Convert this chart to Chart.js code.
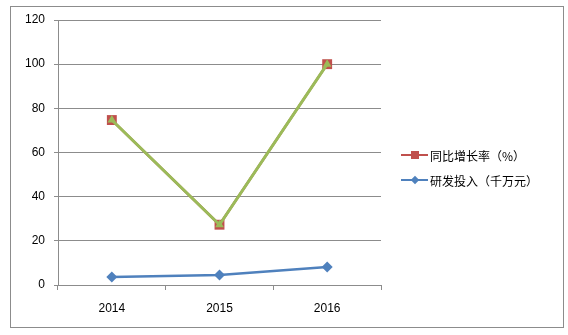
<!DOCTYPE html>
<html>
<head>
<meta charset="utf-8">
<script src="https://cdn.jsdelivr.net/npm/chart.js@4"></script>
<style>
  html, body { margin: 0; padding: 0; background: #fff; }
  #wrap { position: relative; width: 568px; height: 335px; }
  #frame { position: absolute; left: 10px; top: 6px; width: 554px; height: 322px; border: 1px solid #8c8c8c; box-sizing: border-box; }
  canvas { position: absolute; left: 0; top: 0; }
  .leg { position: absolute; left: 401px; font: 12px "Noto Sans CJK SC", sans-serif; color: #000; white-space: nowrap; display: flex; align-items: center; height: 16px; }
  .leg .mk { position: relative; width: 27px; height: 16px; margin-right: 2px; }
  .leg .mk .ln { position: absolute; left: 0; top: 7px; width: 27px; height: 2px; }
  .leg .mk .sq { position: absolute; left: 10px; top: 4px; width: 8px; height: 8px; }
  .leg .mk .dm { position: absolute; left: 11px; top: 5px; width: 6px; height: 6px; transform: rotate(45deg); }
</style>
</head>
<body>
<div id="wrap">
  <div id="frame"></div>
  <canvas id="c" width="568" height="335"></canvas>
  <div class="leg" style="top:147px"><span class="mk"><span class="ln" style="background:#C0504D"></span><span class="sq" style="background:#C0504D"></span></span><span id="l1"></span></div>
  <div class="leg" style="top:172px"><span class="mk"><span class="ln" style="background:#4F81BD"></span><span class="dm" style="background:#4F81BD"></span></span><span id="l2"></span></div>
</div>
<script>
const categories = ["2014", "2015", "2016"];
const growthRate = [74.7, 27.3, 100];        // 同比增长率（%）
const growthRateCopy = [74.7, 27.3, 100];    // green overlay series (no legend entry)
const rdInvestment = [3.6, 4.5, 8.1];        // 研发投入（千万元）
const seriesNames = ["同比增长率（%）", "研发投入（千万元）"];
const yTicks = [0, 20, 40, 60, 80, 100, 120];

document.getElementById('l1').textContent = seriesNames[0];
document.getElementById('l2').textContent = seriesNames[1];

const tickFont = { family: "'Liberation Sans', Arial, sans-serif", size: 12 };

new Chart(document.getElementById('c'), {
  type: 'line',
  data: {
    labels: categories,
    datasets: [
      {
        label: seriesNames[0], data: growthRate, order: 1,
        borderColor: '#C0504D', backgroundColor: '#C0504D', borderWidth: 2.5,
        pointStyle: 'rect', pointRadius: 7, pointBorderWidth: 0
      },
      {
        label: '', data: growthRateCopy, order: 0,
        borderColor: '#9BBB59', backgroundColor: '#9BBB59', borderWidth: 3,
        pointStyle: 'triangle', pointRadius: 5, pointBorderWidth: 0
      },
      {
        label: seriesNames[1], data: rdInvestment, order: 2,
        borderColor: '#4F81BD', backgroundColor: '#4F81BD', borderWidth: 2.5,
        pointStyle: 'rectRot', pointRadius: 5.5, pointBorderWidth: 0
      }
    ]
  },
  options: {
    responsive: false,
    animation: false,
    devicePixelRatio: 1,
    layout: { padding: { left: 0, top: 20, right: 187, bottom: 0 } },
    plugins: { legend: { display: false }, tooltip: { enabled: false } },
    elements: { line: { tension: 0 } },
    scales: {
      x: {
        offset: true,
        grid: { offset: true, drawOnChartArea: false, drawTicks: true, tickLength: 5, color: '#8c8c8c' },
        border: { color: '#8c8c8c' },
        ticks: { color: '#000', font: tickFont, padding: 11, maxRotation: 0 },
        afterFit(s) { s.height = 50; }
      },
      y: {
        min: 0, max: 120,
        afterBuildTicks(s) { s.ticks = yTicks.map(v => ({ value: v })); },
        grid: { color: '#8c8c8c', tickLength: 4, drawTicks: true },
        border: { color: '#8c8c8c' },
        ticks: { color: '#000', font: tickFont, padding: 9 },
        afterFit(s) { s.width = 58; }
      }
    }
  }
});
</script>
</body>
</html>
